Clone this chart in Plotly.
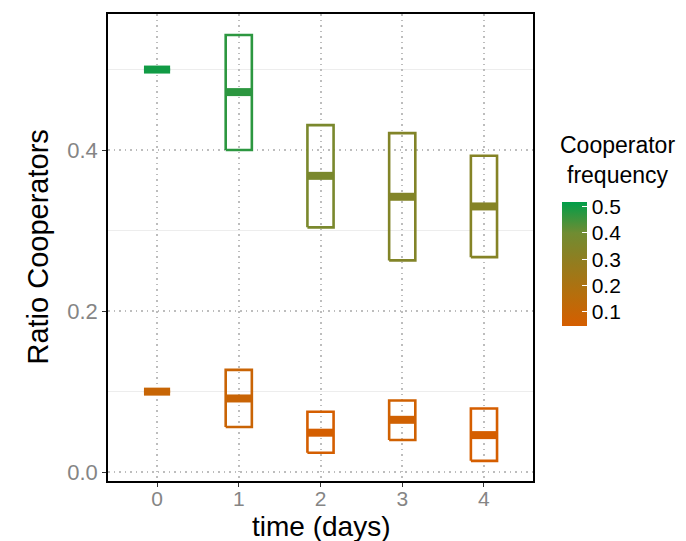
import plotly.graph_objects as go
from plotly.colors import sample_colorscale

# ---- data ----
days = [0, 1, 2, 3, 4]
high_lo = [0.5, 0.400, 0.304, 0.263, 0.267]
high_mid = [0.5, 0.472, 0.368, 0.342, 0.330]
high_hi = [0.5, 0.543, 0.431, 0.421, 0.393]
low_lo = [0.1, 0.056, 0.024, 0.040, 0.014]
low_mid = [0.1, 0.0915, 0.049, 0.065, 0.046]
low_hi = [0.1, 0.127, 0.075, 0.089, 0.079]
cb_ticks = [0.1, 0.2, 0.3, 0.4, 0.5]

cmin, cmax = 0.046, 0.518
cscale = [[0, "rgb(213,94,0)"], [0.25, "rgb(182,110,12)"], [0.5, "rgb(148,124,30)"],
          [0.75, "rgb(112,140,50)"], [1, "rgb(0,158,73)"]]

def col(v):
    t = min(max((v - cmin) / (cmax - cmin), 0), 1)
    return sample_colorscale(cscale, [t])[0]

hw = 0.16
fig = go.Figure()
for lo_s, mid_s, hi_s in [(high_lo, high_mid, high_hi), (low_lo, low_mid, low_hi)]:
    for d, lo, mid, hi in zip(days, lo_s, mid_s, hi_s):
        c = col(mid)
        fig.add_trace(go.Scatter(x=[d - hw, d + hw, d + hw, d - hw, d - hw],
                                 y=[lo, lo, hi, hi, lo], mode="lines",
                                 line=dict(color=c, width=2.6), showlegend=False,
                                 hoverinfo="skip"))
        fig.add_trace(go.Scatter(x=[d - hw, d + hw], y=[mid, mid], mode="lines",
                                 line=dict(color=c, width=8), showlegend=False,
                                 hoverinfo="skip"))

# colorbar dummy
fig.add_trace(go.Scatter(x=[None], y=[None], mode="markers",
                         marker=dict(color=[cmin], cmin=cmin, cmax=cmax, colorscale=cscale,
                                     showscale=True,
                                     colorbar=dict(x=1.068, xanchor="left", y=0.4647, yanchor="middle",
                                                   lenmode="pixels", len=124, thickness=25,
                                                   xpad=0, ypad=0, outlinewidth=0,
                                                   tickvals=cb_ticks, ticktext=[f"{v:.1f}" for v in cb_ticks],
                                                   ticks="inside", ticklen=5, tickcolor="white",
                                                   tickfont=dict(size=21, color="black",
                                                                 family="Liberation Sans"))),
                         showlegend=False, hoverinfo="skip"))

fig.add_annotation(text="Cooperator<br>frequency", xref="paper", yref="paper",
                   x=1.198, y=0.687, xanchor="center", yanchor="middle", showarrow=False,
                   font=dict(size=23, color="black", family="Liberation Sans"), align="center")
fig.add_annotation(text="time (days)", xref="paper", yref="paper",
                   x=0.5, y=-0.0974, xanchor="center", yanchor="middle", showarrow=False,
                   font=dict(size=28, color="black", family="Liberation Sans"))
fig.add_annotation(text="Ratio Cooperators", xref="paper", yref="paper", textangle=-90,
                   x=-0.167, y=0.5, xanchor="center", yanchor="middle", showarrow=False,
                   font=dict(size=29, color="black", family="Liberation Sans"))

grid_dash = "1.5px,4px"
fig.update_layout(
    width=686, height=541, margin=dict(l=108, r=153, t=14, b=60),
    plot_bgcolor="white", paper_bgcolor="white",
    font=dict(family="Liberation Sans"),
    xaxis=dict(range=[-0.6, 4.6], tickvals=days, ticktext=[str(d) for d in days],
               automargin=False, ticklabelstandoff=-6,
               showgrid=True, gridcolor="#BDBDBD", griddash=grid_dash, gridwidth=1.5,
               zeroline=False, showline=True, mirror=True, linecolor="black", linewidth=1.5,
               ticks="outside", ticklen=4, tickcolor="#333333",
               tickfont=dict(size=21, color="#858585")),
    yaxis=dict(range=[-0.011, 0.569], tickvals=[0, 0.2, 0.4], ticktext=["0.0", "0.2", "0.4"],
               automargin=False,
               showgrid=True, gridcolor="#BDBDBD", griddash=grid_dash, gridwidth=1.5,
               minor=dict(tickvals=[0.1, 0.3, 0.5], showgrid=True, gridcolor="#EDEDED",
                          griddash="solid", gridwidth=1, ticks=""),
               zeroline=False, showline=True, mirror=True, linecolor="black", linewidth=1.5,
               ticks="outside", ticklen=4, tickcolor="#333333",
               tickfont=dict(size=22, color="#858585")),
)

fig.write_html("out.html")
